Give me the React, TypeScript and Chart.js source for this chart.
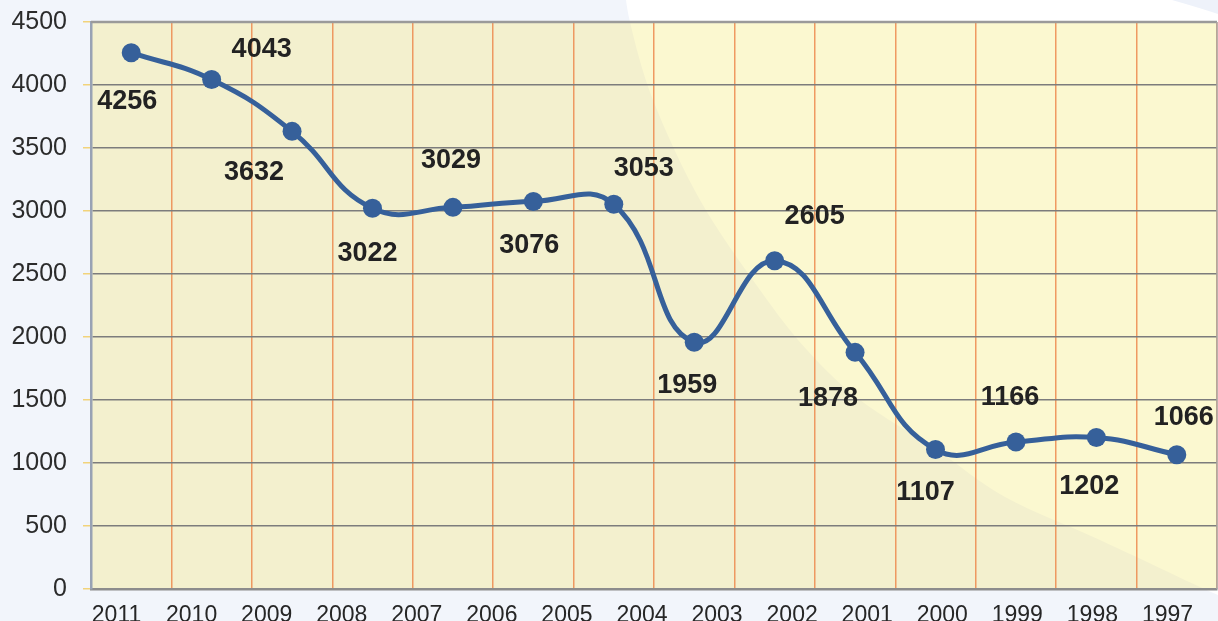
import React, { useEffect, useRef } from "react";
import { Chart, registerables } from "chart.js";

Chart.register(...registerables);

// Data (points, in order from left to right)
const pointCategories = ["2011", "2010", "2009", "2008", "2007", "2006", "2005", "2004", "2003", "2002", "2001", "2000", "1999", "1998"];
const values = [4256, 4043, 3632, 3022, 3029, 3076, 3053, 1959, 2605, 1878, 1107, 1166, 1202, 1066];
// Year labels printed under the axis (15 labels)
const yearLabels = ["2011", "2010", "2009", "2008", "2007", "2006", "2005", "2004", "2003", "2002", "2001", "2000", "1999", "1998", "1997"];
const yTicks = [0, 500, 1000, 1500, 2000, 2500, 3000, 3500, 4000, 4500];

// Label placement offsets (style, px) relative to each point
const labelDx = [-4, 50, -38, -5, -2, -4, 30, -7, 40, -27, -10, -6, -7, 7];
const labelDy = [49, -30, 41, 45, -47, 44, -36, 43, -44, 46, 43, -45, 49, -37];

// Decorative background curve (canvas coordinates)
const bgCurve: [number, number][] = [
  [624, -20], [630, 22], [653, 100], [700, 200], [760, 290], [807, 350], [860, 400],
  [937, 450], [1005, 497], [1100, 540], [1200, 587], [1240, 605], [1300, 640],
];

function curvePath(ctx: CanvasRenderingContext2D, pts: [number, number][]) {
  ctx.moveTo(pts[0][0], pts[0][1]);
  for (let i = 0; i < pts.length - 1; i++) {
    const p0 = pts[Math.max(0, i - 1)];
    const p1 = pts[i];
    const p2 = pts[i + 1];
    const p3 = pts[Math.min(pts.length - 1, i + 2)];
    const c1x = p1[0] + (p2[0] - p0[0]) / 6;
    const c1y = p1[1] + (p2[1] - p0[1]) / 6;
    const c2x = p2[0] - (p3[0] - p1[0]) / 6;
    const c2y = p2[1] - (p3[1] - p1[1]) / 6;
    ctx.bezierCurveTo(c1x, c1y, c2x, c2y, p2[0], p2[1]);
  }
}

function shapePath(ctx: CanvasRenderingContext2D) {
  ctx.beginPath();
  curvePath(ctx, bgCurve);
  ctx.lineTo(1400, 700);
  ctx.lineTo(1400, -40);
  ctx.lineTo(624, -40);
  ctx.closePath();
}

const backgroundPlugin = {
  id: "bgDeco",
  beforeDraw(chart: any) {
    const { ctx, chartArea: a, width, height } = chart;
    ctx.save();
    ctx.fillStyle = "#f2f5fb";
    ctx.fillRect(0, 0, width, height);
    shapePath(ctx);
    ctx.fillStyle = "#ffffff";
    ctx.fill();
    // small blue wedge top right
    ctx.beginPath();
    ctx.moveTo(1172, 0);
    ctx.quadraticCurveTo(1200, 8, 1218, 14);
    ctx.lineTo(1218, 0);
    ctx.closePath();
    ctx.fillStyle = "#eef2fa";
    ctx.fill();
    // plot area
    ctx.fillStyle = "#f3f0ce";
    ctx.fillRect(a.left, a.top, a.right - a.left, a.bottom - a.top);
    ctx.beginPath();
    ctx.rect(a.left, a.top, a.right - a.left, a.bottom - a.top);
    ctx.clip();
    shapePath(ctx);
    ctx.fillStyle = "#fbf8d0";
    ctx.fill();
    ctx.restore();
  },
  beforeDatasetsDraw(chart: any) {
    const { ctx, chartArea: a } = chart;
    ctx.save();
    ctx.strokeStyle = "#9a9a9a";
    ctx.lineWidth = 2.5;
    ctx.beginPath();
    ctx.moveTo(a.left, a.top);
    ctx.lineTo(a.right, a.top);
    ctx.stroke();
    ctx.lineWidth = 1.5;
    ctx.strokeStyle = "#a8a8a8";
    ctx.beginPath();
    ctx.moveTo(a.right, a.top);
    ctx.lineTo(a.right, a.bottom);
    ctx.stroke();
    ctx.restore();
  },
};

const labelPlugin = {
  id: "valueLabels",
  afterDatasetsDraw(chart: any) {
    const { ctx } = chart;
    const meta = chart.getDatasetMeta(0);
    ctx.save();
    ctx.font = "bold 27px 'Liberation Sans', Arial, sans-serif";
    ctx.fillStyle = "#222222";
    ctx.textAlign = "center";
    ctx.textBaseline = "middle";
    meta.data.forEach((pt: any, i: number) => {
      ctx.fillText(String(values[i]), pt.x + labelDx[i], pt.y + labelDy[i]);
    });
    ctx.restore();
  },
};

export default function App() {
  const ref = useRef<HTMLCanvasElement | null>(null);
  useEffect(() => {
    if (!ref.current) return;
    const chart = new Chart(ref.current, {
      type: "line",
      data: {
        labels: pointCategories,
        datasets: [
          {
            data: values,
            borderColor: "#36609a",
            backgroundColor: "#36609a",
            borderWidth: 5,
            tension: 0.45,
            pointRadius: 9.5,
            pointHoverRadius: 9.5,
            pointBorderWidth: 0,
            pointBackgroundColor: "#36609a",
            fill: false,
          },
        ],
      },
      options: {
        responsive: false,
        animation: false,
        events: [],
        layout: { autoPadding: false, padding: { top: 22, right: 1, left: 0, bottom: 0 } },
        plugins: { legend: { display: false }, tooltip: { enabled: false } },
        scales: {
          x: {
            type: "category",
            offset: true,
            position: "bottom",
            weight: 0,
            grid: {
              display: true,
              offset: true,
              color: "rgba(236,138,78,0.85)",
              lineWidth: 1.5,
              drawTicks: false,
            },
            border: { display: true, color: "#8c8c8c", width: 2.5 },
            ticks: { display: false },
            afterFit: (s: any) => {
              s.height = 0;
              s.paddingLeft = 0;
              s.paddingRight = 0;
            },
          },
          x2: {
            type: "category",
            labels: yearLabels,
            offset: true,
            position: "bottom",
            weight: 1,
            grid: { display: false, drawTicks: false },
            border: { display: false },
            ticks: {
              color: "#262626",
              font: { family: "'Liberation Sans', Arial, sans-serif", size: 23 },
              padding: 13,
              labelOffset: -12,
              maxRotation: 0,
              autoSkip: false,
            },
            afterFit: (s: any) => {
              s.height = 32;
              s.paddingLeft = 0;
              s.paddingRight = 0;
            },
          },
          y: {
            min: 0,
            max: 4500,
            afterBuildTicks: (s: any) => {
              s.ticks = yTicks.map((v) => ({ value: v }));
            },
            grid: {
              color: "#7c7c7c",
              lineWidth: 1.5,
              tickColor: "#f2d37a",
              tickLength: 8,
            },
            border: { display: true, color: "#98a2b4", width: 2.5 },
            ticks: {
              color: "#2b2b2b",
              font: { family: "'Liberation Sans', Arial, sans-serif", size: 25 },
              padding: 16,
              callback: (v: any) => String(v),
            },
            afterFit: (s: any) => {
              s.width = 91;
              s.paddingTop = 0;
              s.paddingBottom = 0;
            },
          },
        },
      },
      plugins: [backgroundPlugin, labelPlugin],
    });
    return () => chart.destroy();
  }, []);
  return (
    <div style={{ position: "fixed", left: 0, top: 0, width: 1218, height: 621, overflow: "hidden" }}>
      <canvas ref={ref} width={1218} height={621} style={{ display: "block", width: 1218, height: 621 }} />
    </div>
  );
}
